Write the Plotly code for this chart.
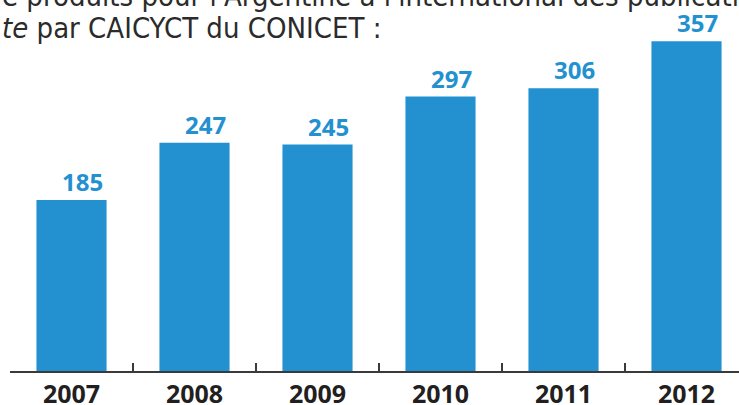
import plotly.graph_objects as go

years = ["2007", "2008", "2009", "2010", "2011", "2012"]
counts = [185, 247, 245, 297, 306, 357]

bar_color = "#2391d0"
text_dark = "#231f20"

fig = go.Figure()
fig.add_trace(go.Bar(
    x=years, y=counts, marker=dict(color=bar_color, line=dict(width=0)),
    width=0.57, hoverinfo="skip",
))

for i, v in enumerate(counts):
    fig.add_annotation(
        x=i, y=v, xref="x", yref="y", text=f"<b>{v}</b>", showarrow=False,
        xanchor="center", yanchor="bottom", xshift=11, yshift=0,
        font=dict(family="Open Sans", size=24, color=bar_color),
    )

title_font = dict(family="DejaVu Sans Condensed, Roboto", size=29, color="#2b2b2b")
fig.add_annotation(
    x=-10/729, y=1, xref="paper", yref="paper", xanchor="left", yanchor="bottom",
    yshift=-15, showarrow=False,
    text="e produits pour l'Argentine à l'international des publications",
    font=title_font,
)
fig.add_annotation(
    x=-10/729, y=1, xref="paper", yref="paper", xanchor="left", yanchor="bottom",
    yshift=-47, showarrow=False,
    text="<i>te</i> par CAICYCT du CONICET :",
    font=title_font,
)

fig.update_layout(
    width=739, height=405,
    margin=dict(l=10, r=0, t=0, b=34, autoexpand=False),
    paper_bgcolor="white", plot_bgcolor="white",
    showlegend=False,
    xaxis=dict(
        type="category", range=[-0.5, -0.5 + 729/123], automargin=False,
        showline=True, linecolor="#3a3a3a", linewidth=2,
        ticks="inside", ticklen=8, tickwidth=2, tickcolor="#3a3a3a",
        tickson="boundaries", showgrid=False,
        tickfont=dict(family="Open Sans", size=25, color=text_dark, weight="bold"),
    ),
    yaxis=dict(range=[0, 371/0.924], visible=False, showgrid=False, zeroline=False,
               automargin=False),
)

fig.write_html(
    "out.html",
    config={"displayModeBar": False, "staticPlot": True},
    post_script="document.body.style.margin='0';document.body.style.overflow='hidden';",
)
